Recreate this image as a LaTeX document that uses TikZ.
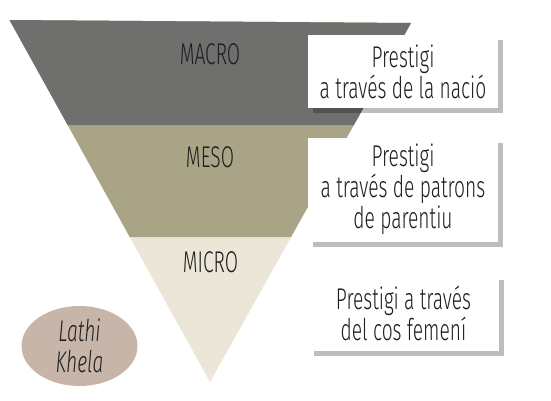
\documentclass[tikz,border=0pt]{standalone}
\usepackage{fontspec}
\setmainfont{Fira Sans Light}[FakeStretch=0.64]
\usetikzlibrary{shapes.geometric,shadows}
\definecolor{macrogrey}{RGB}{111,111,109}
\definecolor{mesoolive}{RGB}{169,164,134}
\definecolor{microcream}{RGB}{235,230,216}
\definecolor{lathirose}{RGB}{200,181,169}
\definecolor{textgrey}{RGB}{30,30,30}

\begin{document}
\begin{tikzpicture}[x=1pt,y=-1pt,
  level/.style={font=\fontsize{30}{31}\selectfont,text=textgrey,anchor=base},
  prestigi/.style={fill=white,minimum width=190pt,inner sep=0pt,align=center,
    font=\fontsize{30}{31}\selectfont,text=textgrey,
    drop shadow={shadow xshift=5pt,shadow yshift=-5pt,fill=black,opacity=0.26}}]

\useasboundingbox (0,0) rectangle (551,400);

% the three bands of the funnel
\fill[microcream] (9.5,20) -- (411,23) -- (210,382) -- cycle;
\fill[mesoolive] (9.5,20) -- (411,23) -- (291,237) -- (129.7,237) -- cycle;
\fill[macrogrey] (9.5,20) -- (411,23) -- (353.9,125) -- (67.7,125) -- cycle;

\node[level] (macro) at (210,64) {MACRO};
\node[level] (meso) at (210,167) {MESO};
\node[level] (micro) at (210.5,272) {MICRO};

\node[prestigi,minimum height=73pt] (nacio) at (403,71.5) {Prestigi\\a través de la nació};
\node[prestigi,minimum height=104pt] (parentiu) at (403,189.6) {Prestigi\\a través de patrons\\de parentiu};
\node[prestigi,minimum height=76pt] (cos) at (403.5,313) {Prestigi a través\\del cos femení};

\node[ellipse,fill=lathirose,minimum width=116pt,minimum height=80pt,inner sep=0pt,
  align=center,font=\fontsize{30}{31}\selectfont\itshape,text=textgrey] (lathi) at (79.5,346) {Lathi\\Khela};
\end{tikzpicture}
\end{document}
